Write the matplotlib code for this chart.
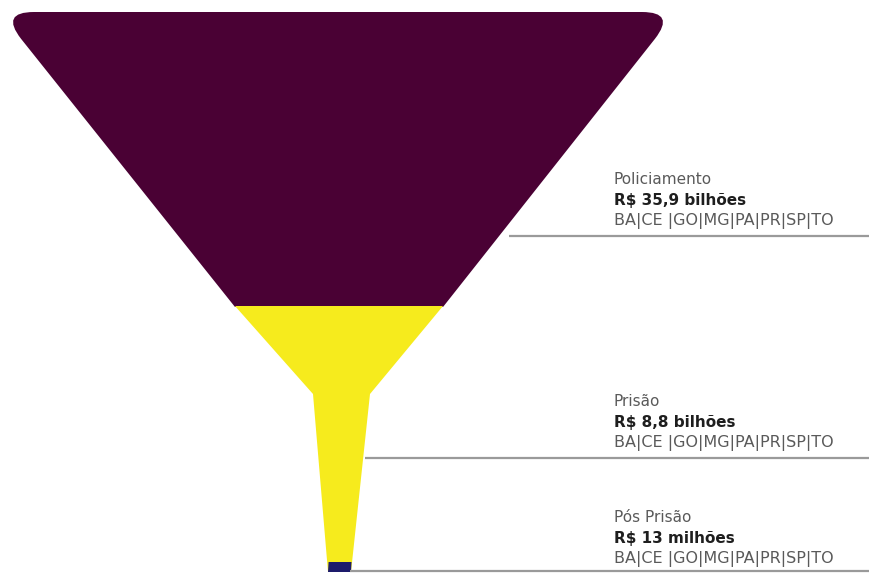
import matplotlib.pyplot as plt
from matplotlib.path import Path
from matplotlib.patches import PathPatch, Polygon

# stages of the funnel (top to bottom)
stages = ['Policiamento', 'Prisão', 'Pós Prisão']
values = ['R$ 35,9 bilhões', 'R$ 8,8 bilhões', 'R$ 13 milhões']
states = ['BA|CE |GO|MG|PA|PR|SP|TO'] * 3

purple = '#4a0134'
yellow = '#f6eb1d'
navy = '#1d1b6b'
grey_txt = '#5a5a5a'
line_col = '#9a9a9a'

fig = plt.figure(figsize=(8.7, 5.73), dpi=100)
ax = fig.add_axes([0, 0, 1, 1])
ax.set_xlim(0, 870)
ax.set_ylim(573, 0)
ax.axis('off')

# top part (policiamento) - inverted trapezoid with rounded top corners
r = 34
verts = [
    (235, 307),
    (0 + r * 0.62, 12 + r * 0.79),
    (0, 12), (0 + r, 12),
    (676 - r, 12),
    (676, 12), (676 - r * 0.62, 12 + r * 0.79),
    (443, 307),
    (235, 307),
]
codes = [Path.MOVETO, Path.LINETO, Path.CURVE3, Path.CURVE3, Path.LINETO,
         Path.CURVE3, Path.CURVE3, Path.LINETO, Path.CLOSEPOLY]
ax.add_patch(PathPatch(Path(verts, codes), facecolor=purple, edgecolor='none'))

# middle part (prisão) - yellow neck
ax.add_patch(Polygon([(235, 306), (443, 306), (370, 394), (351, 572),
                      (328, 572), (313, 394)], closed=True,
                     facecolor=yellow, edgecolor='none'))

# bottom tip (pós prisão)
ax.add_patch(Polygon([(328.6, 562), (351.5, 562), (351, 572), (328, 572)],
                     closed=True, facecolor=navy, edgecolor='none'))

# leader lines and labels
line_y = [236, 458, 571]
line_x0 = [509, 365, 350]
text_y = [180, 402, 518]
fnt = 'DejaVu Sans'
for i in range(len(stages)):
    ax.plot([line_x0[i], 870], [line_y[i], line_y[i]], color=line_col, lw=1.6,
            solid_capstyle='butt')
    ax.text(614, text_y[i], stages[i], fontsize=11, color=grey_txt,
            family=fnt, va='center', ha='left')
    ax.text(614, text_y[i] + 20, values[i], fontsize=11, color='#1e1e1e',
            family=fnt, fontweight='bold', va='center', ha='left')
    ax.text(614, text_y[i] + 41, states[i], fontsize=11.5, color=grey_txt,
            family=fnt, va='center', ha='left')

fig.savefig('out.png', dpi=100)
